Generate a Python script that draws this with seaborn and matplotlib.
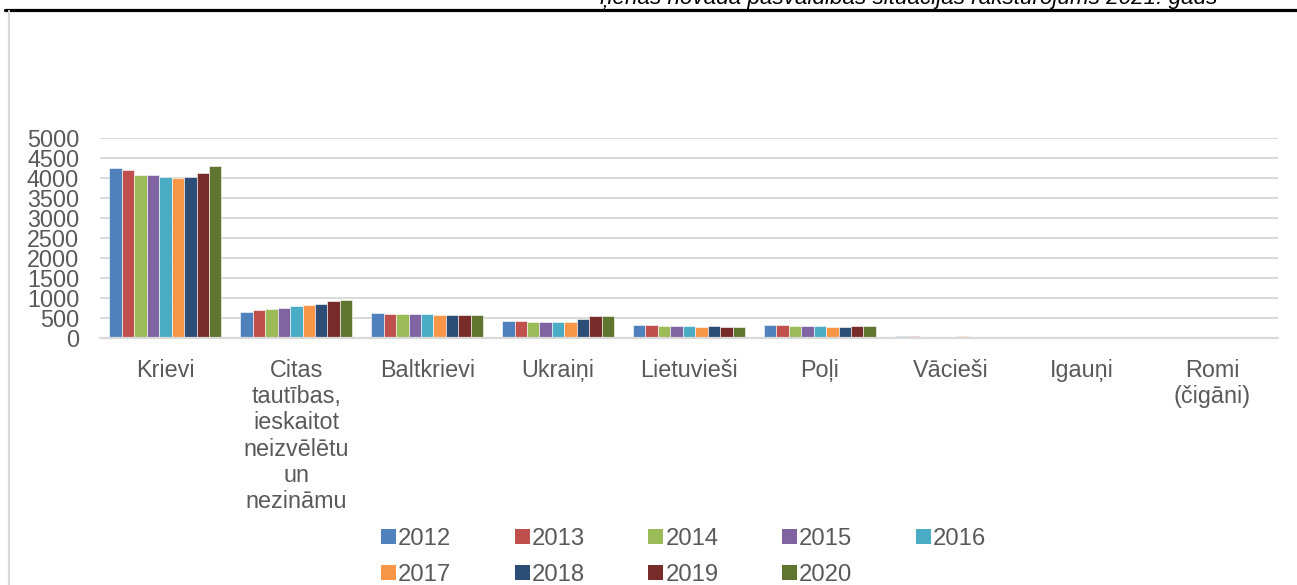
import pandas as pd
import matplotlib.pyplot as plt
import seaborn as sns
from matplotlib.lines import Line2D
from matplotlib.patches import Patch

# 1. data
groups = ["Krievi", "Citas\ntautības,\nieskaitot\nneizvēlētu\nun\nnezināmu", "Baltkrievi",
          "Ukraiņi", "Lietuvieši", "Poļi", "Vācieši", "Igauņi", "Romi\n(čigāni)"]
years = ["2012", "2013", "2014", "2015", "2016", "2017", "2018", "2019", "2020"]

y2012 = [4250, 640, 617, 425, 333, 317, 40, 8, 1]
y2013 = [4200, 700, 608, 417, 317, 317, 38, 8, 1]
y2014 = [4085, 725, 592, 400, 308, 308, 36, 7, 1]
y2015 = [4085, 750, 592, 408, 300, 292, 35, 7, 1]
y2016 = [4018, 808, 592, 400, 292, 292, 35, 7, 1]
y2017 = [3995, 825, 567, 392, 283, 275, 38, 7, 1]
y2018 = [4027, 850, 575, 467, 292, 275, 36, 6, 1]
y2019 = [4135, 917, 575, 542, 275, 292, 34, 6, 1]
y2020 = [4293, 942, 583, 558, 283, 292, 32, 6, 1]
series = [y2012, y2013, y2014, y2015, y2016, y2017, y2018, y2019, y2020]

colors = ["#4F81BD", "#C0504D", "#9BBB59", "#8064A2", "#4BACC6",
          "#F79646", "#2C4D75", "#772C2A", "#5F7530"]

rows = []
for yr, vals in zip(years, series):
    for g, v in zip(groups, vals):
        rows.append({"group": g, "year": yr, "count": v})
df = pd.DataFrame(rows)

# 2. style
sns.set_theme(style="whitegrid")
plt.rcParams["font.family"] = ["Liberation Sans", "DejaVu Sans"]
txt_color = "#595959"
fs = 16.8

W, H = 1297, 585
fig = plt.figure(figsize=(W / 100, H / 100), dpi=100)
ax = fig.add_axes([100 / W, (H - 338) / H, 1178 / W, 200 / H])

sns.barplot(data=df, x="group", y="count", hue="year", palette=colors,
            saturation=1, width=0.856, gap=0, ax=ax, legend=False,
            edgecolor="white", linewidth=0.4)

ax.set_ylim(0, 5000)
ax.set_xlim(-0.5, len(groups) - 0.5)
ax.set_yticks(range(0, 5001, 500))
ax.set_xlabel("")
ax.set_ylabel("")
ax.grid(axis="y", color="#d9d9d9", linewidth=1.4)
ax.grid(axis="x", visible=False)
for s in ax.spines.values():
    s.set_visible(False)
ax.axhline(0, color="#d9d9d9", linewidth=1.6, clip_on=False)
ax.tick_params(axis="y", length=0, pad=15, labelsize=fs, labelcolor=txt_color)
ax.tick_params(axis="x", length=0, pad=15, labelsize=fs, labelcolor=txt_color)
for lab in ax.get_xticklabels():
    lab.set_linespacing(1.18)

# legend under the chart, 5 columns filled row by row
handles = [Patch(facecolor=c, edgecolor="none") for c in colors]
order = [0, 5, 1, 6, 2, 7, 3, 8, 4]
fig.legend([handles[i] for i in order], [years[i] for i in order],
           loc="upper left", bbox_to_anchor=(381 / W, 1 - 528 / H),
           ncol=5, frameon=False, fontsize=17.2, labelcolor=txt_color,
           handlelength=0.62, handleheight=0.62, handletextpad=0.1,
           columnspacing=2.65, labelspacing=0.58, borderpad=0, borderaxespad=0)

# page decorations: header text cut at the top, rule, left border
fig.text(1217 / W, 1 - 4 / H, "ņenas novada pašvaldības situācijas raksturojums 2021. gads",
         ha="right", va="baseline", fontsize=16.1, style="italic", color="black")
fig.add_artist(Line2D([5 / W, 1], [1 - 10 / H, 1 - 10 / H], color="black", linewidth=2.3))
fig.add_artist(Line2D([9 / W, 9 / W], [0, 1 - 11 / H], color="#d9d9d9", linewidth=1.6))

plt.savefig("out.png", dpi=100)
